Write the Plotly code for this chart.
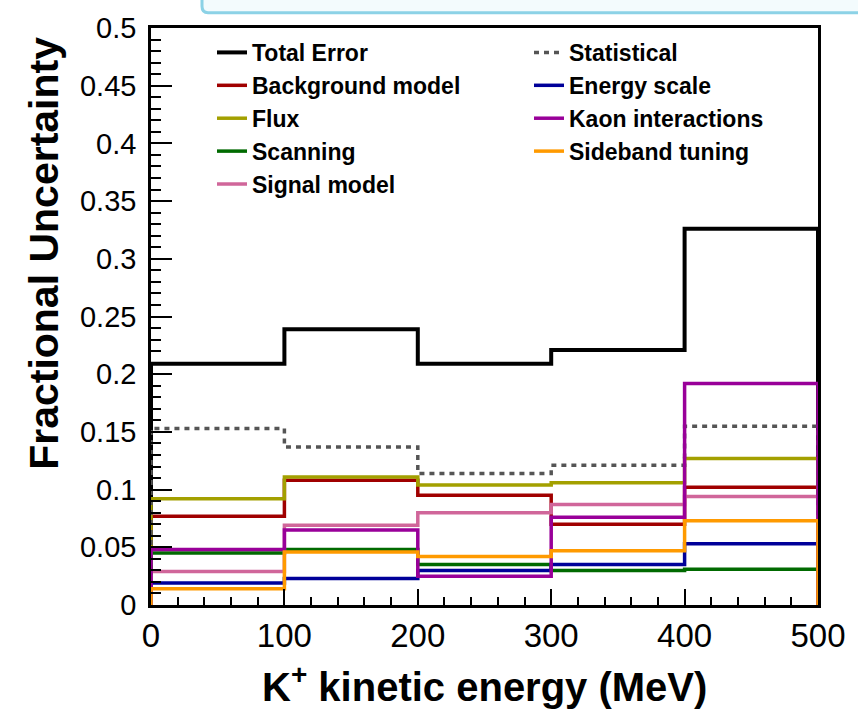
import plotly.graph_objects as go

# Bin edges in K+ kinetic energy (MeV)
bin_edges = [0, 100, 200, 300, 400, 500]

# Fractional uncertainty per bin, for each source
total_error = [0.209, 0.239, 0.209, 0.221, 0.326]
statistical = [0.153, 0.137, 0.114, 0.121, 0.155]
background_model = [0.077, 0.108, 0.095, 0.070, 0.102]
energy_scale = [0.019, 0.023, 0.030, 0.035, 0.053]
flux = [0.092, 0.111, 0.104, 0.106, 0.127]
kaon_interactions = [0.048, 0.065, 0.025, 0.076, 0.192]
scanning = [0.045, 0.048, 0.035, 0.030, 0.031]
sideband_tuning = [0.014, 0.046, 0.042, 0.047, 0.073]
signal_model = [0.029, 0.069, 0.080, 0.087, 0.094]

y_tick_values = [0, 0.05, 0.1, 0.15, 0.2, 0.25, 0.3, 0.35, 0.4, 0.45, 0.5]
y_tick_labels = ["0", "0.05", "0.1", "0.15", "0.2", "0.25", "0.3", "0.35", "0.4", "0.45", "0.5"]
x_tick_values = [0, 100, 200, 300, 400, 500]
x_tick_labels = ["0", "100", "200", "300", "400", "500"]

W, H = 858, 711
ML, MR, MT, MB = 151, 40, 20, 106
PW, PH = W - ML - MR, H - MT - MB


def xp(px):
    return (px - ML) / PW


def yp(py):
    return (H - MB - py) / PH


def outline(values):
    """Histogram outline: rises from zero at the first edge, drops back at the last."""
    xs = [bin_edges[0]] + list(bin_edges) + [bin_edges[-1]]
    ys = [0] + list(values) + [values[-1], 0]
    return xs, ys


series = [
    ("Total Error", total_error, "#000000", 4, "solid", "legend"),
    ("Background model", background_model, "#a00000", 3.5, "solid", "legend"),
    ("Flux", flux, "#a3a000", 3.5, "solid", "legend"),
    ("Scanning", scanning, "#006a00", 3.5, "solid", "legend"),
    ("Signal model", signal_model, "#d0669a", 3.5, "solid", "legend"),
    ("Statistical", statistical, "#555555", 3.5, "5px,5px", "legend2"),
    ("Energy scale", energy_scale, "#000099", 3.5, "solid", "legend2"),
    ("Kaon interactions", kaon_interactions, "#990099", 3.5, "solid", "legend2"),
    ("Sideband tuning", sideband_tuning, "#ff9a00", 3.5, "solid", "legend2"),
]

fig = go.Figure()
for name, vals, color, width, dash, leg in series:
    xs, ys = outline(vals)
    fig.add_trace(go.Scatter(
        x=xs, y=ys, mode="lines", name=name,
        line=dict(color=color, width=width, dash=dash, shape="hv"),
        legend=leg, cliponaxis=True,
    ))

FONT = "Liberation Sans, Arial, sans-serif"
legend_font = dict(family=FONT, size=23, color="black", weight="bold")

fig.update_layout(
    width=W, height=H,
    margin=dict(l=ML, r=MR, t=MT, b=MB, pad=0),
    paper_bgcolor="white", plot_bgcolor="white",
    showlegend=True,
    legend=dict(x=xp(212), y=yp(23), xanchor="left", yanchor="top",
                bgcolor="rgba(0,0,0,0)", font=legend_font, tracegroupgap=0),
    legend2=dict(x=xp(529), y=yp(23), xanchor="left", yanchor="top",
                 bgcolor="rgba(0,0,0,0)", font=legend_font, tracegroupgap=0),
    xaxis=dict(
        range=[0, 500], tickmode="array", tickvals=x_tick_values, ticktext=x_tick_labels,
        ticks="inside", ticklen=16, tickwidth=2, tickcolor="black",
        minor=dict(ticks="inside", ticklen=8, tickwidth=1.5, tickcolor="black", dtick=20, tick0=0),
        showline=True, linecolor="black", linewidth=2.5, mirror=True,
        showgrid=False, zeroline=False, layer="above traces",
        tickfont=dict(family=FONT, size=33, color="black"), ticklabelstandoff=0,
    ),
    yaxis=dict(
        range=[0, 0.5], tickmode="array", tickvals=y_tick_values, ticktext=y_tick_labels,
        ticks="inside", ticklen=21, tickwidth=2, tickcolor="black",
        minor=dict(ticks="inside", ticklen=10, tickwidth=1.5, tickcolor="black", dtick=0.01, tick0=0),
        showline=True, linecolor="black", linewidth=2.5, mirror=True,
        showgrid=False, zeroline=False, layer="above traces",
        tickfont=dict(family=FONT, size=29, color="black"), ticklabelstandoff=6,
    ),
    annotations=[
        dict(text="K<sup>+</sup> kinetic energy (MeV)", xref="paper", yref="paper",
             x=xp(484), y=yp(685), xanchor="center", yanchor="middle", showarrow=False,
             font=dict(family=FONT, size=40, color="black", weight="bold")),
        dict(text="Fractional Uncertainty", xref="paper", yref="paper",
             x=xp(44), y=yp(249), xanchor="center", yanchor="middle", showarrow=False,
             textangle=-90,
             font=dict(family=FONT, size=41, color="black", weight="bold")),
    ],
    shapes=[
        # lower edge of a rounded box above the figure
        dict(type="path", xref="paper", yref="paper",
             path=(f"M {xp(202)} {yp(-30)} L {xp(202)} {yp(-2)} "
                   f"Q {xp(202)} {yp(4.5)} {xp(208)} {yp(4.5)} "
                   f"L {xp(870)} {yp(4.5)} L {xp(870)} {yp(-30)} Z"),
             line=dict(color="#8cd2e6", width=3), fillcolor="#f3fbfd", layer="above"),
    ],
)

fig.write_html("out.html")
